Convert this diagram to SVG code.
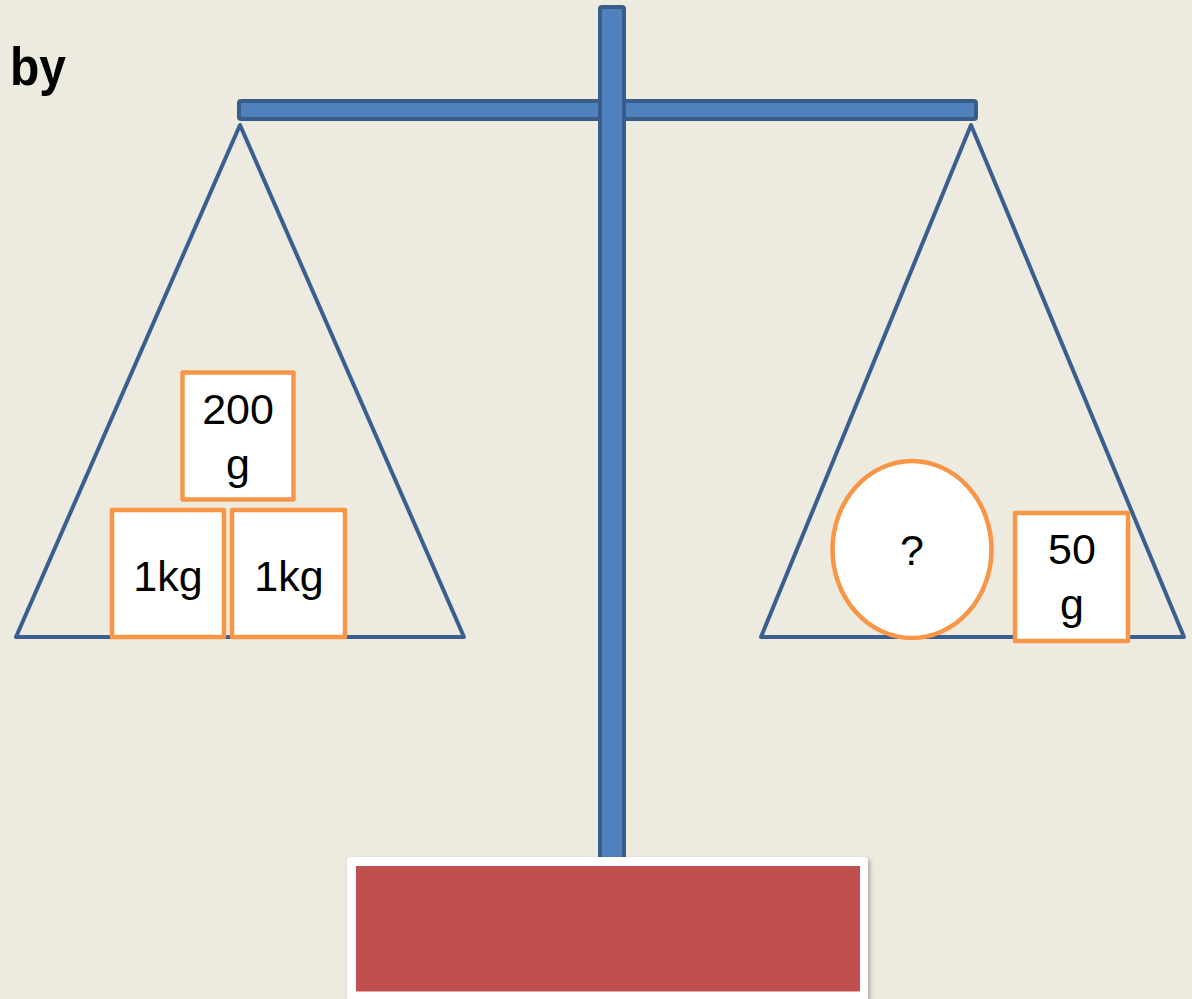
<svg xmlns="http://www.w3.org/2000/svg" width="1192" height="999" viewBox="0 0 1192 999">
<defs>
<style>
.bar{fill:#4F81BD;stroke:#385D8A;stroke-width:4;stroke-linejoin:round}
.pan{fill:none;stroke:#3A5F8F;stroke-width:4;stroke-linejoin:round}
.wt{fill:#FFFFFF;stroke:#F79646;stroke-width:4.5;stroke-linejoin:round}
.lbl{font-family:"Liberation Sans",Arial,sans-serif;font-size:43px;fill:#000;text-anchor:middle}
</style>
<filter id="sh" x="-5%" y="-10%" width="110%" height="130%">
<feDropShadow dx="2" dy="2" stdDeviation="2" flood-color="#000" flood-opacity="0.3"/>
</filter>
</defs>
<rect width="1192" height="999" fill="#EDEBE0"/>
<text x="10" y="85" font-family="Liberation Sans,Arial,sans-serif" font-weight="bold" font-size="53" textLength="56" lengthAdjust="spacingAndGlyphs" fill="#000">by</text>
<g id="beam"><rect class="bar" x="239" y="101" width="737" height="18" rx="2"/></g>
<g id="pole"><rect class="bar" x="600" y="7" width="24" height="870" rx="2"/></g>
<g id="left-pan"><polygon class="pan" points="240,125 16,637 464,637"/></g>
<g id="right-pan"><polygon class="pan" points="971,125 761,637 1184,637"/></g>
<g id="w200"><rect class="wt" x="182.5" y="372.5" width="111" height="127"/><text class="lbl" x="238" y="424">200</text><text class="lbl" x="238" y="479">g</text></g>
<g id="w1kg-a"><rect class="wt" x="112" y="510" width="112" height="127"/><text class="lbl" x="168" y="591">1kg</text></g>
<g id="w1kg-b"><rect class="wt" x="232" y="510" width="113" height="127"/><text class="lbl" x="289" y="591">1kg</text></g>
<g id="unknown"><ellipse class="wt" cx="912" cy="549.5" rx="79.5" ry="88.5"/><text class="lbl" x="912" y="565">?</text></g>
<g id="w50"><rect class="wt" x="1015" y="513" width="113" height="128"/><text class="lbl" x="1072" y="564">50</text><text class="lbl" x="1072" y="619">g</text></g>
<g id="base"><rect x="347" y="857" width="521" height="150" rx="4" fill="#FFFFFF" filter="url(#sh)"/><rect x="356" y="866" width="504" height="126" fill="#C0504D"/><line x1="356" y1="991.5" x2="860" y2="991.5" stroke="#E8A7A5" stroke-width="1"/></g>
</svg>
